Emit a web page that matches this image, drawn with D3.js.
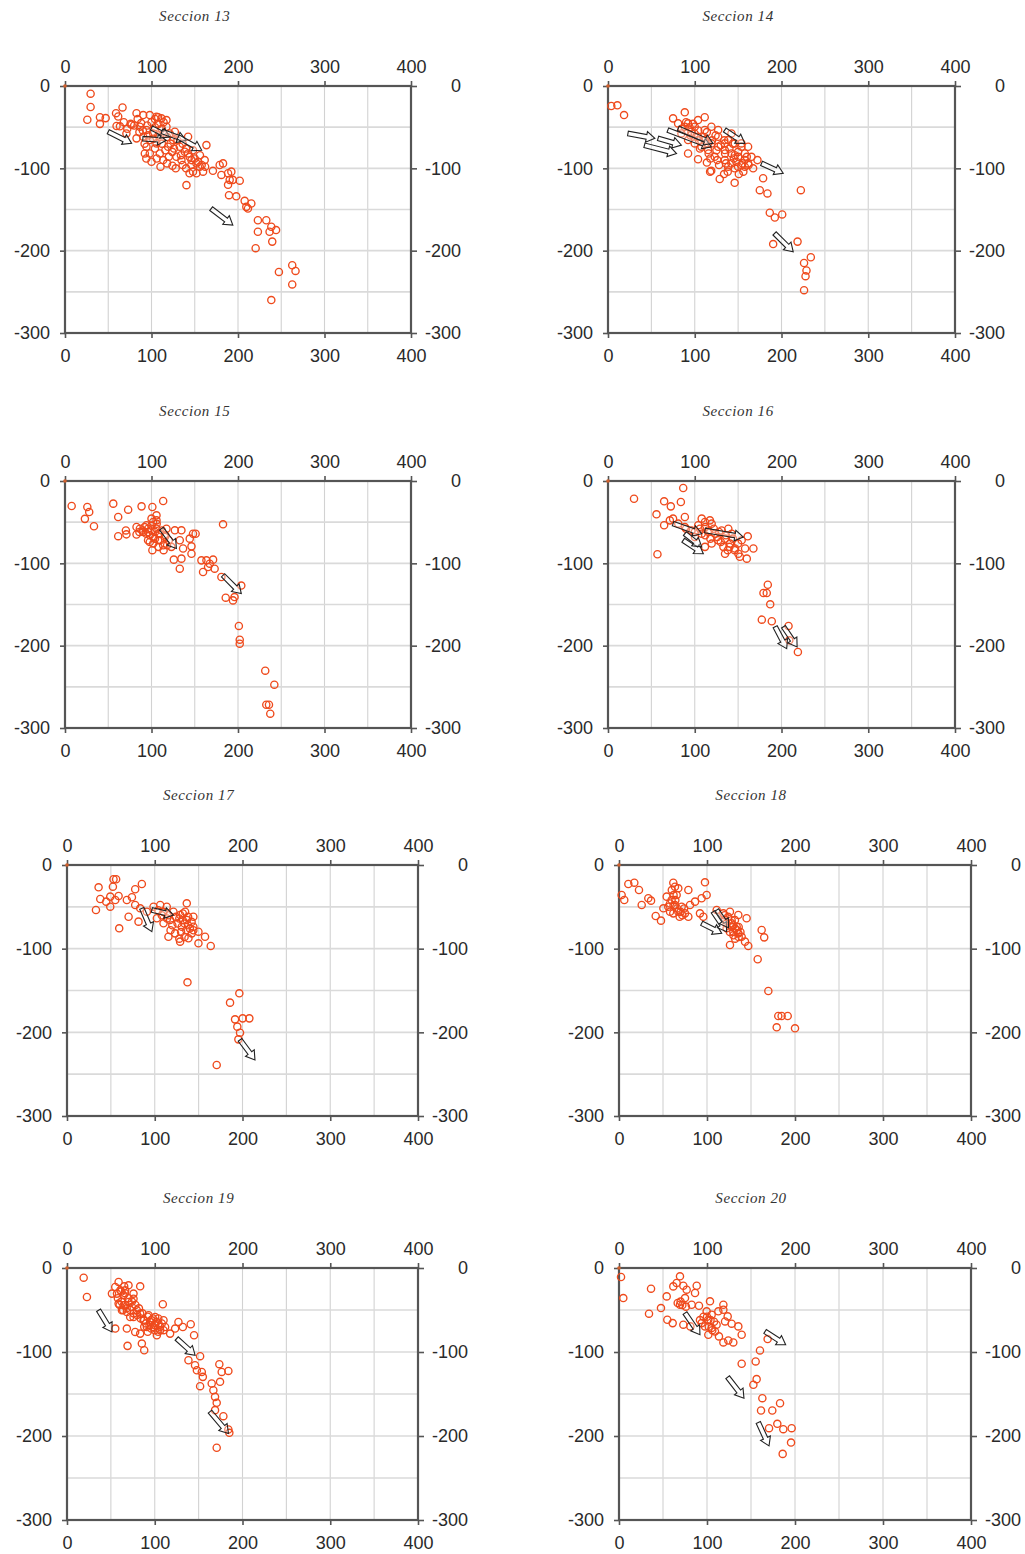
<!DOCTYPE html>
<html>
<head>
<meta charset="utf-8">
<script src="https://cdn.jsdelivr.net/npm/d3@7"></script>
<style>
  html, body { margin: 0; padding: 0; background: #fff; }
  svg { display: block; }
  .tick text { font-family: "Liberation Sans", Arial, sans-serif; font-size: 18px; fill: #2a2a2a; }
  .title { font-family: "Liberation Serif", "Times New Roman", serif; font-style: italic; font-size: 15px; fill: #333; letter-spacing: 0.6px; }
</style>
</head>
<body>
<svg id="chart" width="1025" height="1554"></svg>
<script>
// ---------------- DATA ----------------
const titles = ["Seccion 13", "Seccion 14", "Seccion 15", "Seccion 16", "Seccion 17", "Seccion 18", "Seccion 19", "Seccion 20"];
const xTicks = [0, 100, 200, 300, 400];
const yTicks = [0, -100, -200, -300];
const xGrid = [50, 100, 150, 200, 250, 300, 350];
const yGrid = [-50, -100, -150, -200, -250];

// hypocentres [distance, depth]
const sec13Points = [
  [29.6,-9.3],[29.6,-25.5],[25.8,-41],[40.4,-38],[40.4,-46],[47,-39],[59,-33],[66.5,-26],[61.5,-37],[59.6,-48.6],[63.5,-49],[71,-57.6],[82.7,-33],[77,-47],
  [90.4,-35.3],[98,-35.3],[107.7,-38],[117.3,-41.4],[105.8,-37.3],[111.5,-39.3],[86.5,-49.5],[94.2,-53.5],[102,-57.6],[90.4,-61.6],[82.7,-63.6],[98,-65.7],
  [105.8,-69.7],[94.2,-73.8],[92.3,-81.9],[109.6,-81.9],[113.5,-90],[110.4,-98],[124.2,-96.9],[119.2,-73.8],[125,-65.7],[132.7,-73.8],[138.5,-79.9],
  [128.8,-85.9],[134.6,-90],[142.3,-81.9],[146.2,-90],[152,-94],[155.8,-98],[148,-104],[159.6,-104],[161.5,-90],[163.5,-71.8],[140.4,-120.4],[142.3,-61.6],
  [117.3,-49.5],[121,-57.6],[127,-55.5],
  [88,-45],[95,-48],[100,-44],[104,-50],[108,-46],[112,-52],[96,-60],[102,-64],[108,-60],[114,-58],[118,-62],[122,-70],[126,-76],[116,-78],[104,-76],
  [98,-82],[92,-70],[86,-56],[80,-48],[84,-40],[130,-66],[136,-70],[140,-76],[144,-86],[150,-88],[154,-92],[146,-96],[140,-100],[136,-96],[158,-96],
  [162,-98],[152,-106],[144,-106],[128,-100],[120,-86],[112,-70],[106,-88],[100,-92],[94,-88],[118,-94],[124,-80],[134,-84],[148,-78],[156,-84],
  [104,-40],[114,-44],[76,-46],[72,-52],[68,-44],[90,-54],
  [171,-103],[178.8,-96],[182.7,-94],[180.8,-108],[188.5,-106],[190.4,-114],[192.3,-104],[194,-114],[202,-115],[188.5,-120],[189.6,-132.6],[198,-134],
  [207.7,-139.5],[209.6,-146.8],[215.4,-142.7],[211.5,-148.8],[223,-163],[232.7,-163],[238.5,-171],[236.5,-177],[244,-175],[239.6,-189],[223,-177],
  [220.4,-197],[262.7,-217.7],[266.5,-224.6],[247.3,-225.8],[262.7,-241],[238.5,-260]
];
const sec14Points = [
  [3.8,-24.3],[10.8,-23.5],[18.5,-35.3],[88.5,-32],[75,-39.3],[111.5,-38],[92.3,-82],[103.8,-89],[114,-93],[117.7,-104],[119,-103],[128.8,-113],
  [146,-117.6],[150.8,-107],[133.8,-107],[161.5,-73.8],[172.3,-90],[167.3,-100],[178.8,-112],[175,-126.5],[183.8,-130.5],[186.5,-154],[192.3,-159.7],
  [200.8,-156],[222.3,-126.5],[190.4,-192],[218.5,-189],[233.8,-208],[226,-215],[228.8,-224],[227.7,-231],[226,-248],
  [80.8,-45.4],[88.5,-49.5],[96.2,-55.5],[103.8,-61.6],[111.5,-65.7],[119.2,-69.7],[127,-73.8],[134.6,-77.8],[142.3,-81.9],[150,-86],[157.7,-90],
  [127,-61.6],[138.5,-65.7],[146.2,-69.7],[153.8,-73.8],[157.7,-81.9],[161.5,-94],[150,-98],[142.3,-94],[134.6,-90],[123,-86],[115.4,-77.8],
  [107.7,-73.8],[100,-69.7],[92.3,-65.7],[84.6,-57.6],[100,-49.5],[111.5,-53.5],[127,-53.5],[142.3,-57.6],[153.8,-69.7],[165.4,-86],[92.3,-45.4],
  [103.8,-41.4],[119.2,-49.5],[134.6,-69.7],[146.2,-84],[153.8,-96],[138.5,-98],[157.7,-98],
  [85,-52],[95,-60],[105,-66],[115,-70],[125,-78],[135,-82],[145,-88],[155,-94],[100,-58],[110,-62],[120,-66],[130,-72],[140,-76],[150,-80],
  [160,-86],[106,-76],[116,-82],[126,-90],[136,-94],[146,-100],[156,-104],[94,-50],[104,-54],[114,-56],[124,-60],[134,-66],[144,-70],[118,-88],
  [128,-96],[138,-104],[148,-92],[162,-96],[90,-44],[98,-46]
];
const sec15Points = [
  [7.7,-30.4],[25.8,-31.6],[28,-37.7],[23,-46],[33.5,-55],[55.8,-27.5],[61.5,-43.7],[73,-34.8],[88.5,-30.8],[101,-31.6],[113.5,-24.3],[61.5,-67],
  [70.4,-60],[71,-64.8],[82.7,-55.9],[82.7,-65],[101,-84],[105.8,-41.7],
  [86.5,-57.9],[94.2,-53.8],[96.2,-62],[101.9,-49.8],[105.8,-57.9],[109.6,-64],[101.9,-68],[98,-74],[107.7,-72],[113.5,-78],[115.4,-68],[117.3,-57.9],
  [105.8,-47.8],[100,-45.7],[90.4,-62],[123,-80],[127,-59.9],[134.6,-59.9],[132.7,-72],[136.5,-82],[125.8,-95.5],[134.6,-94.3],[132.7,-106.5],
  [146.2,-79.4],[146.2,-88.3],[144.2,-70],[148,-64],[151,-64],
  [92,-56],[96,-58],[100,-60],[104,-62],[108,-64],[98,-66],[104,-70],[110,-72],[94,-64],[100,-54],[106,-52],[112,-60],[116,-66],[120,-72],[118,-78],
  [102,-76],[96,-72],[90,-60],[86,-62],[108,-80],[114,-84],
  [157.7,-96.4],[163.5,-96.4],[171.2,-95.5],[159.6,-110.5],[165.4,-104.5],[173,-106.5],[167.3,-100.4],[182.7,-52.6],[180.8,-116.6],[203.8,-127],
  [185.8,-141.7],[194.2,-145],[196,-141],[201,-176],[202,-192.7],[202,-197.6],[231.5,-230.4],[242,-247.4],[232.7,-271.7],[235.8,-271.7],[237.3,-282.6]
];
const sec16Points = [
  [30,-21.5],[86.7,-8.5],[64.7,-24.7],[72.4,-30.8],[84,-25.5],[55.9,-40.5],[64.7,-53.8],[71.3,-47.8],[57,-89],[88.6,-43.7],
  [75,-45.7],[81,-51.8],[88.6,-55.9],[96.3,-60],[104,-53.8],[111.8,-49.8],[119.5,-51.8],[115.6,-60],[108,-64],[123.3,-64],[131,-60],[138.7,-57.9],
  [142.6,-64],[134.9,-70],[127,-72],[119.5,-76],[111.8,-80],[133,-80],[140.7,-76],[146.4,-82],[150.3,-88.3],[134.9,-88.3],[158,-82],[160,-94.3],
  [167.6,-82],[161.1,-67.2],[154.1,-72],[100.2,-68],[108,-45.7],[117.5,-47.8],
  [90,-58],[100,-62],[106,-58],[112,-56],[116,-62],[122,-58],[128,-62],[126,-68],[136,-66],[144,-70],[150,-76],[140,-80],[130,-74],[146,-84],
  [152,-92],[138,-84],[118,-70],[112,-66],
  [184.2,-126],[179.2,-136],[183,-136],[187,-149.8],[177.3,-168.4],[188.8,-170.4],[208.1,-176],[209,-193.5],[218.9,-207.7]
];
const sec17Points = [
  [33,-53.8],[36,-26.7],[37.9,-40.6],[53,-17],[56,-17],[52.3,-25.9],[44.7,-43.8],[49.3,-37.8],[49.3,-49.8],[55,-41.8],[58.8,-37],[59.5,-75.7],
  [68.2,-41.8],[70.2,-61.8],[74,-38.6],[77.7,-29],[85.3,-22.7],[81.5,-67.7],[77.7,-47.8],[83.4,-51.8],
  [91,-55.8],[98.6,-49.8],[106.2,-47.8],[113.7,-49.8],[121.3,-55.8],[129,-59.8],[136.5,-65.7],[144,-73.7],[136.5,-45.8],[134.6,-55.8],[130.8,-73.7],
  [123.2,-81.7],[115.6,-85.7],[128.9,-91.6],[138.4,-87.6],[149.8,-93.6],[149.8,-79.7],[157.3,-85.7],[163.8,-96.8],[110,-69.7],[102.4,-63.7],
  [117.5,-65.7],[144,-61.8],[142.2,-81.7],
  [104,-54],[110,-56],[116,-60],[124,-62],[128,-64],[132,-66],[134,-70],[138,-72],[140,-76],[136,-78],[130,-80],[126,-70],[120,-72],[114,-64],
  [108,-60],[132,-58],[138,-62],[142,-68],[144,-78],[134,-86],[128,-88],[118,-78],
  [137.3,-140.2],[185.8,-164.5],[196.4,-153.4],[191.5,-184.5],[200.2,-183.3],[207.8,-183.3],[194.1,-193.2],[197.2,-200.4],[195.3,-208.4],[170.6,-239]
];
const sec18Points = [
  [3,-35.9],[6,-41.8],[10.6,-22.7],[17.4,-21.1],[22.7,-29.9],[25.8,-47.8],[33.3,-39.8],[36.4,-42.6],[41.7,-61],[47.7,-66.5],[61.7,-21.1],[63.6,-25.9],
  [67.4,-27.9],[78.8,-29.9],[97.7,-20.7],[99.6,-35.9],[93.9,-39.8],[86.4,-43.8],
  [54.2,-37.8],[56,-49.8],[59.8,-41.8],[63.6,-47.8],[65.5,-35.9],[58,-55.8],[67.4,-55.8],[71.2,-49.8],[75,-57.8],[68.9,-61.8],[78.8,-61.8],
  [61.7,-57.8],[80.7,-47.8],[50.4,-51.8],[92,-57.8],[95.8,-61.8],
  [60,-30],[62,-36],[64,-42],[66,-52],[70,-56],[72,-60],[62,-48],[58,-46],[74,-52],
  [111,-53.8],[118.6,-57.8],[126.1,-55.8],[135.6,-59.8],[145,-63.7],[120.5,-65.7],[128,-69.7],[133.7,-73.7],[129.9,-79.7],[135.6,-81.7],
  [139.4,-85.7],[126.1,-95.6],[143.2,-91.6],[146.9,-96.8],[122.3,-75.7],[131.8,-65.7],
  [124,-62],[128,-66],[130,-72],[132,-76],[134,-78],[136,-74],[130,-84],[126,-80],[132,-88],[136,-86],[138,-80],[128,-74],[122,-70],[120,-60],
  [162.1,-77.7],[165,-86.5],[157.6,-112.7],[169.7,-150.6],[181,-180.5],[184.8,-180.5],[191.7,-180.5],[179.2,-194],[200,-195.2]
];
const sec19Points = [
  [19,-11.5],[22.7,-34.5],[51.2,-30.5],[55,-22.6],[58.8,-16.6],[65.2,-21.8],[70.1,-20.6],[83.4,-21.8],[55,-72.1],[68.2,-72.1],[69,-92.7],[85.3,-90],
  [88,-97.9],[109.2,-43.2],
  [56.9,-30.5],[60.7,-26.6],[64.5,-32.5],[58.8,-42.4],[64.5,-44.4],[70.1,-40.4],[75.8,-36.5],[74,-46.4],[79.6,-50.3],[68.2,-52.3],[62.6,-50.3],
  [75.8,-58.3],[83.4,-54.3],[87.2,-62.2],[93,-56.3],[94.8,-64.2],[100.5,-58.3],[104.3,-66.2],[98.6,-70.2],[106.2,-74.1],[102.4,-80.1],[110,-62.2],
  [111.8,-70.2],[91,-70.2],[83.4,-78.1],[77.7,-76.1],[72,-58.3],[66.3,-26.6],[75.8,-30.5],
  [58,-36],[62,-40],[66,-44],[68,-48],[72,-50],[76,-54],[80,-56],[84,-60],[88,-62],[90,-66],[94,-68],[96,-72],[100,-74],[104,-76],[106,-70],
  [102,-64],[98,-60],[92,-58],[86,-54],[82,-48],[78,-44],[74,-40],[70,-36],[66,-30],[62,-28],[96,-62],[100,-68],[104,-60],[108,-66],[110,-74],
  [92,-76],[88,-70],[60,-44],[64,-50],
  [117.5,-78.1],[123.2,-72.1],[127,-64.2],[132,-70.2],[141,-67],[144.8,-80.1],[138.4,-109.8],[145.9,-115.7],[151.7,-105],[148,-121.7],
  [153.6,-123.7],[151.7,-140.7],[154.8,-129.6],[164.9,-137.5],[174.4,-135.5],[166.8,-145.5],[168.7,-153.4],[170.6,-160.5],[173.6,-114.5],
  [176.3,-123.7],[183.9,-122.5],[178.2,-176.4],[168.7,-169.2],[183.9,-192.2],[185,-196.2],[170.6,-214]
];
const sec20Points = [
  [2.3,-10.7],[4.9,-35.8],[36.4,-24.6],[34.1,-54.4],[47.7,-47.7],[54.2,-33.8],[54.9,-61.6],[61,-65.6],[69.3,-9.9],[61.7,-21.9],[65.5,-17.9],
  [73.1,-21.1],[76.9,-25.8],[88.3,-21.1],[86.4,-29.8],[75,-35.8],[66.7,-41.7],[69.3,-43.7],[82.6,-43.7],[90.9,-44.9],[73.1,-67.5],[81.1,-69.5],
  [103.4,-39.7],[99.6,-51.6],[105.3,-55.6],[112.9,-51.6],[101.5,-61.6],[97.7,-69.5],[105.3,-71.5],[110.9,-67.5],[93.9,-65.6],[101.5,-79.5],
  [109.1,-75.5],[113.6,-81.4],[118.6,-43.7],[118.6,-49.7],[123.5,-57.6],[120.5,-63.6],[128,-66.3],[135.6,-69.5],[139.4,-79.5],[118.6,-88.6],
  [124.2,-86.2],[129.9,-88.6],
  [70,-40],[72,-44],[76,-46],[100,-58],[104,-62],[108,-64],[102,-70],[106,-74],[96,-58],[92,-62],
  [168.9,-84.6],[160.2,-98.1],[139.4,-114],[155.3,-111.2],[156.4,-132.3],[152.7,-139],[162.9,-155],[161.4,-169.6],[174.2,-169.6],[183,-161],
  [170.5,-190.7],[179.9,-185.5],[186.7,-191.9],[196.2,-190.7],[195.5,-207.8],[186,-221.3]
];

// displacement arrows [x1, y1, x2, y2]
const sec13Arrows = [[50,-55.5,77,-69.7],[90,-64,117,-66],[100,-51,121,-62],[112,-55,140,-66],[131,-62,158,-78],[169,-149,194,-169]];
const sec14Arrows = [[23,-57.6,54,-63.6],[42,-72,79,-82],[57.7,-63.6,84.6,-71.8],[69,-53.5,119,-73.8],[81,-51.5,121,-69.7],[134.6,-53.5,157.7,-69.7],[177,-94,202,-106],[192,-179,213.5,-201.5]];
const sec15Arrows = [[111.5,-58,128.8,-82],[182.7,-114.6,203.8,-136.8]];
const sec16Arrows = [[75,-51.8,108,-64],[86.7,-72,109.9,-88.3],[88.6,-64,108,-80],[111.8,-60,156,-68],[192.7,-177,206,-203.6],[202.3,-177,218,-201.6]];
const sec17Arrows = [[85.3,-51.8,96.7,-79.7],[96.7,-53.8,121.3,-59.8],[197.2,-209,214.2,-233]];
const sec18Arrows = [[94,-69.7,116.7,-81.7],[107,-55.8,122.3,-79.7],[111,-53.8,124.5,-75]];
const sec19Arrows = [[36,-50.3,51.2,-76.1],[125,-84,146,-103.8],[163,-171,184,-197]];
const sec20Arrows = [[75,-53.6,92,-79.5],[166,-75.5,189.4,-91.4],[123.5,-130,142,-155],[158.3,-184,170.5,-211.8]];

// ---------------- LAYOUT ----------------
const boxes = [
  {l: 65,  t: 86,   r: 411, b: 333},
  {l: 608, t: 86,   r: 955, b: 333},
  {l: 65,  t: 481,  r: 411, b: 728},
  {l: 608, t: 481,  r: 955, b: 728},
  {l: 67,  t: 865,  r: 418, b: 1116},
  {l: 619, t: 865,  r: 971, b: 1116},
  {l: 67,  t: 1268, r: 418, b: 1520},
  {l: 619, t: 1268, r: 971, b: 1520}
];
const pointSets = [sec13Points, sec14Points, sec15Points, sec16Points, sec17Points, sec18Points, sec19Points, sec20Points];
const arrowSets = [sec13Arrows, sec14Arrows, sec15Arrows, sec16Arrows, sec17Arrows, sec18Arrows, sec19Arrows, sec20Arrows];

const svg = d3.select("#chart");
const fmt = d => String(d);

function arrowPath(x1, y1, x2, y2) {
  const dx = x2 - x1, dy = y2 - y1;
  const L = Math.hypot(dx, dy);
  const ux = dx / L, uy = dy / L, nx = -uy, ny = ux;
  const hw = 2.3, HW = 5.4, HL = Math.min(8.5, L * 0.45);
  const bx = x2 - ux * HL, by = y2 - uy * HL;
  const pts = [
    [x1 + nx * hw, y1 + ny * hw],
    [bx + nx * hw, by + ny * hw],
    [bx + nx * HW, by + ny * HW],
    [x2, y2],
    [bx - nx * HW, by - ny * HW],
    [bx - nx * hw, by - ny * hw],
    [x1 - nx * hw, y1 - ny * hw]
  ];
  return "M" + pts.map(p => p[0].toFixed(2) + "," + p[1].toFixed(2)).join("L") + "Z";
}

boxes.forEach((bx, i) => {
  const w = bx.r - bx.l, h = bx.b - bx.t;
  const x = d3.scaleLinear().domain([0, 400]).range([bx.l, bx.r]);
  const y = d3.scaleLinear().domain([0, -300]).range([bx.t, bx.b]);
  const g = svg.append("g");

  // title
  g.append("text").attr("class", "title")
    .attr("x", bx.l + w * 0.375).attr("y", bx.t - 65)
    .attr("text-anchor", "middle").text(titles[i]);

  // grid
  g.append("g").selectAll("line").data(xGrid).join("line")
    .attr("x1", d => x(d)).attr("x2", d => x(d)).attr("y1", bx.t).attr("y2", bx.b)
    .attr("stroke", "#d2d2d2").attr("stroke-width", 1.1);
  g.append("g").selectAll("line").data(yGrid).join("line")
    .attr("y1", d => y(d)).attr("y2", d => y(d)).attr("x1", bx.l).attr("x2", bx.r)
    .attr("stroke", "#dadada").attr("stroke-width", 1.6);

  // axes
  const top = g.append("g").attr("transform", `translate(0,${bx.t})`)
    .call(d3.axisTop(x).tickValues(xTicks).tickFormat(fmt).tickSize(5).tickSizeOuter(0).tickPadding(8));
  const bottom = g.append("g").attr("transform", `translate(0,${bx.b})`)
    .call(d3.axisBottom(x).tickValues(xTicks).tickFormat(fmt).tickSize(5).tickSizeOuter(0).tickPadding(11));
  const left = g.append("g").attr("transform", `translate(${bx.l},0)`)
    .call(d3.axisLeft(y).tickValues(yTicks).tickFormat(fmt).tickSize(5).tickSizeOuter(0).tickPadding(10));
  const right = g.append("g").attr("transform", `translate(${bx.r},0)`)
    .call(d3.axisRight(y).tickValues(yTicks).tickFormat(fmt).tickSize(6).tickSizeOuter(0));
  right.selectAll(".tick text").attr("text-anchor", "end").attr("x", 50);
  [top, bottom, left, right].forEach(a => {
    a.select(".domain").remove();
    a.selectAll(".tick line").attr("stroke", "#555").attr("stroke-width", 1.6);
    a.attr("font-family", null).attr("font-size", null);
  });

  // frame
  g.append("rect").attr("x", bx.l).attr("y", bx.t).attr("width", w).attr("height", h)
    .attr("fill", "none").attr("stroke", "#555").attr("stroke-width", 2.2);

  // origin marker
  g.append("circle").attr("cx", x(0)).attr("cy", y(0)).attr("r", 1.8).attr("fill", "#d2612e");

  // points
  g.append("g").selectAll("circle").data(pointSets[i]).join("circle")
    .attr("cx", d => x(d[0])).attr("cy", d => y(d[1])).attr("r", 3.6)
    .attr("fill", "none").attr("stroke", "#ef4a1c").attr("stroke-width", 1.35);

  // arrows
  g.append("g").selectAll("path").data(arrowSets[i]).join("path")
    .attr("d", d => arrowPath(x(d[0]), y(d[1]), x(d[2]), y(d[3])))
    .attr("fill", "rgba(255,255,255,0.35)").attr("stroke", "#222").attr("stroke-width", 1.1)
    .attr("stroke-linejoin", "miter");
});
</script>
</body>
</html>
